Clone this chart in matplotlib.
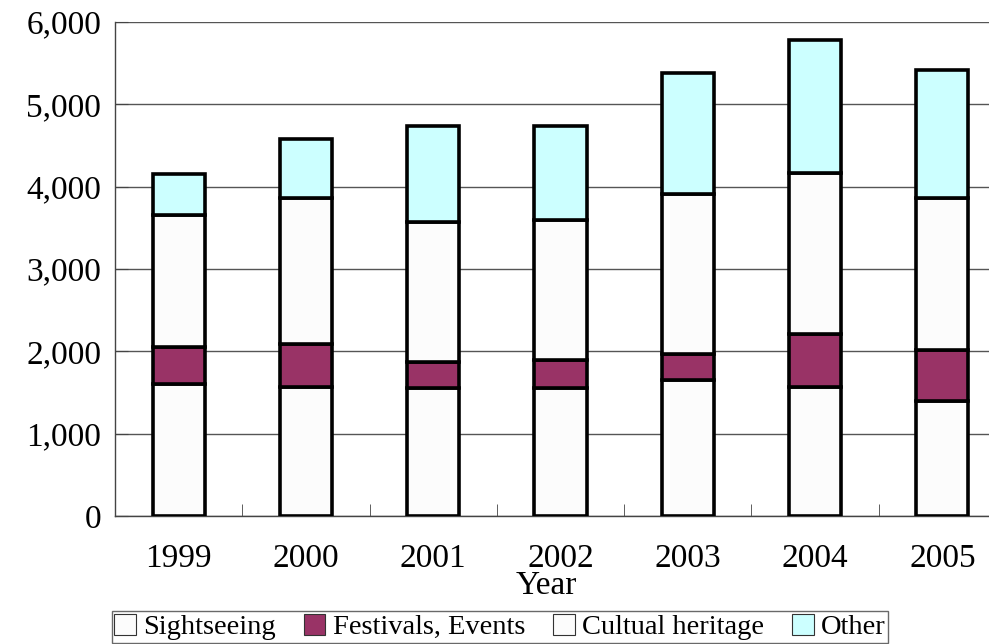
import numpy as np
import matplotlib
matplotlib.use("Agg")
import matplotlib.pyplot as plt

plt.rcParams['font.family'] = ['Liberation Serif', 'DejaVu Serif']

# Data
years = ['1999', '2000', '2001', '2002', '2003', '2004', '2005']
sightseeing = [1600, 1565, 1555, 1555, 1650, 1565, 1395]
festivals = [450, 520, 315, 340, 318, 645, 620]
cultural = [1605, 1775, 1700, 1700, 1943, 1955, 1847]
other = [500, 715, 1165, 1140, 1470, 1615, 1555]

series = [sightseeing, festivals, cultural, other]
labels = ['Sightseeing', 'Festivals, Events', 'Cultual heritage', 'Other']
colors = ['#fcfcfc', '#993366', '#fcfcfc', '#ccffff']

fig = plt.figure(figsize=(9.89, 6.44), dpi=100)
# axes right edge runs past the image edge, like the reference
ax = fig.add_axes([115/989, 1 - 516/644, (1006 - 115)/989, (516 - 22)/644])

x = np.arange(len(years))
bottom = np.zeros(len(years))
handles = []
for vals, lab, col in zip(series, labels, colors):
    b = ax.bar(x, vals, width=0.41, bottom=bottom, color=col,
               edgecolor='black', linewidth=2.6, label=lab, zorder=3)
    handles.append(b)
    bottom += np.array(vals)

ax.set_xlim(-0.5, len(years) - 0.5)
ax.set_ylim(0, 6000)
ax.set_yticks(np.arange(0, 6001, 1000))
ax.set_yticklabels([f'{v:,}' for v in range(0, 6001, 1000)], fontsize=24)
ax.yaxis.grid(True, color='#555555', linewidth=1.0, zorder=0)

ax.set_xticks(x)
ax.set_xticklabels(years, fontsize=24)
ax.set_xticks(np.arange(0.5, len(years) - 0.5, 1), minor=True)
ax.tick_params(axis='x', which='major', length=0, pad=20)
ax.tick_params(axis='x', which='minor', direction='in', length=9, color='#444444')
ax.tick_params(axis='y', direction='in', length=9, color='#444444', pad=10)

for s in ['top', 'right']:
    ax.spines[s].set_visible(False)
for s in ['left', 'bottom']:
    ax.spines[s].set_color('#444444')
    ax.spines[s].set_linewidth(1.0)

ax.set_xlabel('Year', fontsize=24, labelpad=-2)
ax.xaxis.set_label_coords((546 - 115) / (1006 - 115), -(586 - 516) / (516 - 22))
ax.xaxis.label.set_va('center')

leg = fig.legend(handles=handles, labels=labels, loc='upper center',
                 bbox_to_anchor=(500/989, 1 - 611/644), ncol=4, fontsize=20.5,
                 frameon=True, fancybox=False, edgecolor='#444444',
                 handlelength=0.75, handleheight=0.75, handletextpad=0.25,
                 columnspacing=1.0, borderpad=0.1, borderaxespad=0)
leg.get_frame().set_linewidth(1.0)
for h in leg.legend_handles:
    h.set_linewidth(0.8)
    h.set_edgecolor('#333333')

fig.savefig('out.png', dpi=100)
